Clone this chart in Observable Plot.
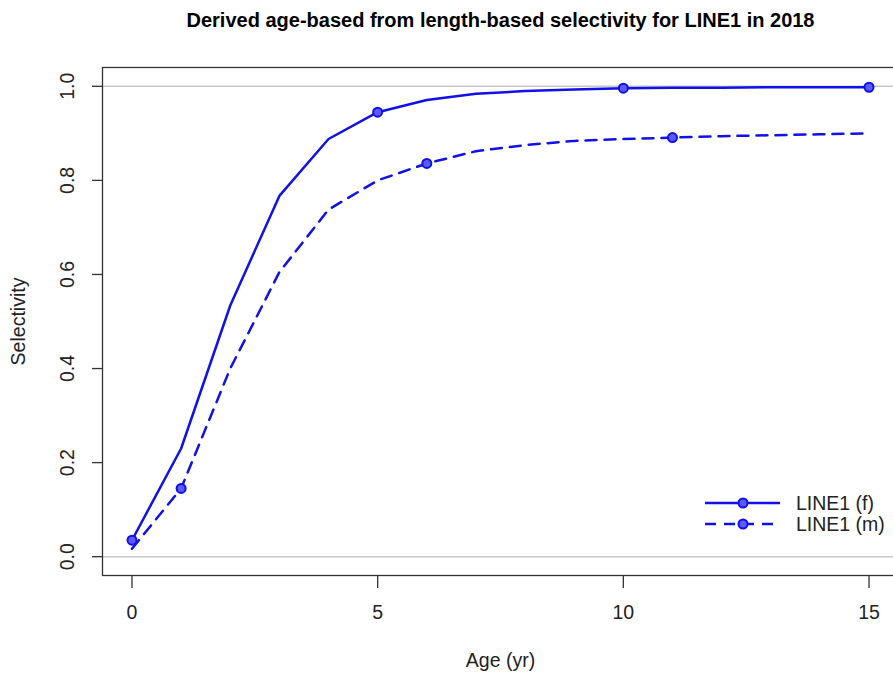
<!DOCTYPE html>
<html>
<head>
<meta charset="utf-8">
<script src="https://cdn.jsdelivr.net/npm/d3@7"></script>
<script src="https://cdn.jsdelivr.net/npm/@observablehq/plot@0.6"></script>
<style>
  html, body { margin: 0; padding: 0; background: #fff; overflow: hidden; }
  #wrap { position: relative; width: 893px; height: 677px; overflow: hidden; }
  #wrap svg { overflow: hidden; }
  #legend { position: absolute; left: 0; top: 0; pointer-events: none; }
</style>
</head>
<body>
<div id="wrap"></div>
<script>
const title = "Derived age-based from length-based selectivity for LINE1 in 2018";
const xLabel = "Age (yr)";
const yLabel = "Selectivity";
const ages = [0, 1, 2, 3, 4, 5, 6, 7, 8, 9, 10, 11, 12, 13, 14, 15];
const femaleSel = [0.035, 0.23, 0.534, 0.767, 0.888, 0.945, 0.971, 0.984, 0.990, 0.993, 0.996, 0.997, 0.997, 0.998, 0.998, 0.998];
const maleSel = [0.017, 0.145, 0.40, 0.605, 0.738, 0.800, 0.836, 0.862, 0.875, 0.884, 0.888, 0.891, 0.894, 0.896, 0.898, 0.900];
const femaleMarkerAges = [0, 5, 10, 15];
const maleMarkerAges = [1, 6, 11];
const seriesNames = ["LINE1 (f)", "LINE1 (m)"];
const xTicks = [0, 5, 10, 15];
const yTicks = [0, 0.2, 0.4, 0.6, 0.8, 1.0];
const refLines = [0, 1];

const BLUE = "#1010e8";
const DASH = "11,8";
const FONT = "'Liberation Sans', Arial, sans-serif";
const FS = 19.5;

const female = ages.map((a, i) => ({age: a, sel: femaleSel[i]}));
const male = ages.map((a, i) => ({age: a, sel: maleSel[i]}));
const femaleMarkers = female.filter(d => femaleMarkerAges.includes(d.age));
const maleMarkers = male.filter(d => maleMarkerAges.includes(d.age));

const W = 893, H = 677;
const plot = Plot.plot({
  width: W,
  height: H,
  marginLeft: 102,
  marginTop: 67,
  marginBottom: 102,
  marginRight: -5,
  style: {fontFamily: FONT, fontSize: FS + "px", color: "#222", background: "#fff", overflow: "hidden"},
  x: {domain: [-0.6, 15.6], label: null},
  y: {domain: [-0.04, 1.04], label: null},
  marks: [
    Plot.ruleY(refLines, {stroke: "#c8c8c8", strokeWidth: 1.5}),
    Plot.frame({stroke: "#333", strokeWidth: 1.3}),
    Plot.axisY({ticks: yTicks, tickSize: 10, tickFormat: () => "", label: null, stroke: "#333", strokeWidth: 1.3}),
    Plot.axisX({ticks: xTicks, tickSize: 13, tickFormat: () => "", label: null, stroke: "#333", strokeWidth: 1.3}),
    Plot.text(yTicks, {y: d => d, text: d3.format(".1f"), frameAnchor: "left", dx: -35, rotate: -90, textAnchor: "middle", lineAnchor: "middle", fill: "#222", fontSize: FS}),
    Plot.text(xTicks, {x: d => d, text: d => String(d), frameAnchor: "bottom", dy: 37, textAnchor: "middle", lineAnchor: "middle", fill: "#222", fontSize: FS}),
    Plot.text([xLabel], {text: d => d, frameAnchor: "bottom", dy: 85, lineAnchor: "middle", fill: "#222", fontSize: FS}),
    Plot.text([yLabel], {text: d => d, frameAnchor: "left", dx: -84, rotate: -90, textAnchor: "middle", lineAnchor: "middle", fill: "#222", fontSize: FS}),
    Plot.text([title], {text: d => d, frameAnchor: "top", dy: -47, lineAnchor: "middle", fill: "#000", fontSize: 20, fontWeight: "bold"}),
    Plot.line(female, {x: "age", y: "sel", stroke: BLUE, strokeWidth: 2.5}),
    Plot.line(male, {x: "age", y: "sel", stroke: BLUE, strokeWidth: 2.5, strokeDasharray: DASH}),
    Plot.dot(femaleMarkers, {x: "age", y: "sel", r: 4.5, stroke: BLUE, strokeWidth: 2, fill: "#5a5aff"}),
    Plot.dot(maleMarkers, {x: "age", y: "sel", r: 4.5, stroke: BLUE, strokeWidth: 2, fill: "#5a5aff"})
  ]
});
const wrap = document.getElementById("wrap");
wrap.appendChild(plot);

// Legend overlay (inside plot area, bottom-right)
const lg = d3.select(wrap).append("svg").attr("id", "legend").attr("width", W).attr("height", H);
const items = seriesNames.map((name, i) => ({name, dash: i === 0 ? null : DASH, row: i}));
const g = lg.selectAll("g").data(items).join("g")
  .attr("transform", d => `translate(705, ${503 + d.row * 21})`);
g.append("line").attr("x1", 0).attr("x2", 75).attr("y1", 0).attr("y2", 0)
  .attr("stroke", BLUE).attr("stroke-width", 2.5)
  .attr("stroke-dasharray", d => d.dash);
g.append("circle").attr("cx", 38).attr("cy", 0).attr("r", 4.5)
  .attr("stroke", BLUE).attr("stroke-width", 2).attr("fill", "#5a5aff");
g.append("text").attr("x", 91).attr("y", 0).attr("dy", "0.35em")
  .attr("font-family", FONT).attr("font-size", FS).attr("fill", "#222")
  .text(d => d.name);
</script>
</body>
</html>
